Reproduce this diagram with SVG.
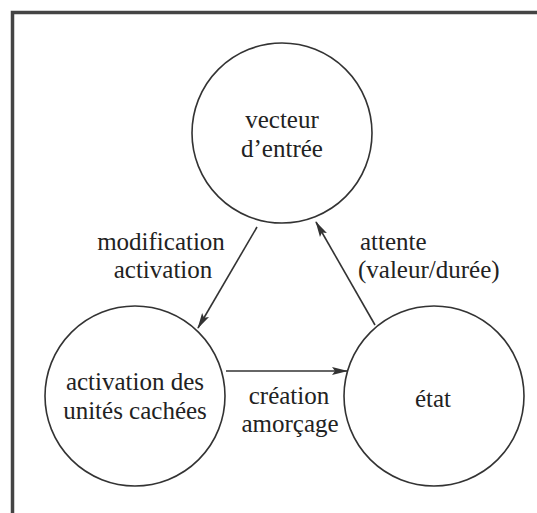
<svg xmlns="http://www.w3.org/2000/svg" width="537" height="513" viewBox="0 0 537 513">
<style>
.node{fill:#fff;stroke:#333;stroke-width:1.6}
.t{font-size:25px;fill:#222;text-anchor:middle}
.l{text-anchor:start}
.edge{stroke:#333;stroke-width:1.6;fill:none;marker-end:url(#ah)}
</style>
<defs>
<marker id="ah" viewBox="0 0 16 10" refX="15" refY="5" markerWidth="16" markerHeight="10" markerUnits="userSpaceOnUse" orient="auto">
<path d="M0,1 L16,5 L0,9 L3,5 Z" fill="#333"/>
</marker>
</defs>
<rect x="0" y="0" width="537" height="513" fill="#fff"/>
<path d="M12.5,600 L12.5,12.5 L600,12.5" fill="none" stroke="#444" stroke-width="3.5"/>
<g font-family="Liberation Serif, Times New Roman, Times, serif">
<g id="n1">
<circle class="node" cx="282" cy="133" r="90"/>
<text class="t" x="282" y="128">vecteur</text>
<text class="t" x="282" y="157">d’entrée</text>
</g>
<g id="n2">
<circle class="node" cx="135" cy="396" r="90"/>
<text class="t" x="135" y="390">activation des</text>
<text class="t" x="135" y="419">unités cachées</text>
</g>
<g id="n3">
<circle class="node" cx="434" cy="396" r="90"/>
<text class="t" x="433" y="407">état</text>
</g>
<g id="edges">
<line class="edge" x1="257" y1="227" x2="198" y2="328"/>
<line class="edge" x1="375" y1="325" x2="316" y2="222"/>
<line class="edge" x1="226" y1="371" x2="347" y2="371"/>
<text class="t" x="161" y="250">modification</text>
<text class="t" x="163" y="278">activation</text>
<text class="t l" x="360" y="250">attente</text>
<text class="t l" x="358" y="278">(valeur/durée)</text>
<text class="t" x="289" y="404">création</text>
<text class="t" x="290" y="432">amorçage</text>
</g>
</g>
</svg>
